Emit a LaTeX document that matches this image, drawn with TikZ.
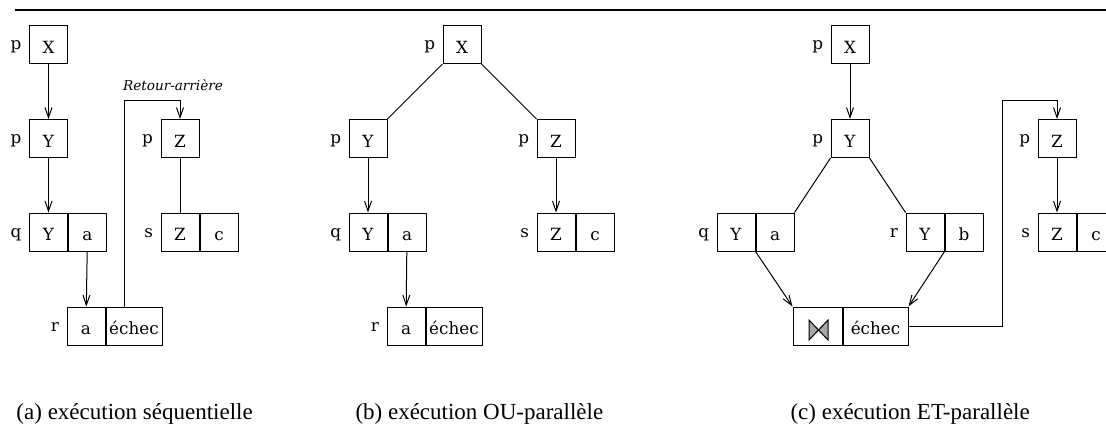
\documentclass[tikz,border=0pt]{standalone}
\usepackage{fontspec}
\setmainfont{Liberation Serif}
\newfontfamily\cellfont{DejaVu Serif}
\usetikzlibrary{positioning,arrows.meta}

\begin{document}
\begin{tikzpicture}[x=0.5pt,y=-0.5pt,line width=0.5pt,
  cell/.style={draw,minimum width=19pt,minimum height=19pt,inner sep=0pt,
    font=\cellfont\fontsize{8.4}{9}\selectfont,text height=8.8pt,text depth=0pt},
  wide/.style={cell,minimum width=28pt},
  lbl/.style={inner sep=0pt,font=\cellfont\fontsize{8.4}{9}\selectfont,
    text height=8.8pt,text depth=0pt,yshift=1.7pt},
  label distance=3.5pt,
  arr/.style={-{Straight Barb[length=5pt,width=3.5pt]}},
  captxt/.style={anchor=base west,inner sep=0pt,font=\fontsize{11.5}{13}\selectfont},
  bow/.style={fill=black!35,draw=black}]
\useasboundingbox (0,0) rectangle (1106,425);
\draw[line width=1pt] (15,10) -- (1106,10);
% (a)
\node[cell,label={[lbl]left:p}] (aX) at (48.5,44.5) {X};
\node[cell,label={[lbl]left:p}] (aY) at (48.5,138.5) {Y};
\node[cell,label={[lbl]left:q}] (aqY) at (48.5,232) {Y};
\node[cell,right=0pt of aqY] (aqa) {a};
\node[cell,label={[lbl]left:r}] (ara) at (86,326) {a};
\node[wide,right=0pt of ara] (arE) {échec};
\node[cell,label={[lbl]left:p}] (aZ) at (180,138.5) {Z};
\node[cell,label={[lbl]left:s}] (asZ) at (180,232) {Z};
\node[cell,right=0pt of asZ] (asc) {c};
\node[font=\cellfont\itshape\fontsize{6.8}{8}\selectfont] (aRet) at (173,85) {Retour-arrière};
\draw[arr] (aX) -- (aY);
\draw[arr] (aY) -- (aqY);
\draw[arr] (aqa) -- (ara);
\draw (aZ) -- (asZ);
\draw[arr] ([xshift=-5pt]arE.north) |- ([yshift=9.5pt]aZ.north) -- (aZ.north);
% (b)
\node[cell,label={[lbl]left:p}] (bX) at (462,44.5) {X};
\node[cell,label={[lbl]left:p}] (bY) at (368,138.5) {Y};
\node[cell,label={[lbl]left:p}] (bZ) at (556,138.5) {Z};
\node[cell,label={[lbl]left:q}] (bqY) at (368,232) {Y};
\node[cell,right=0pt of bqY] (bqa) {a};
\node[cell,label={[lbl]left:s}] (bsZ) at (556,232) {Z};
\node[cell,right=0pt of bsZ] (bsc) {c};
\node[cell,label={[lbl]left:r}] (bra) at (406,326) {a};
\node[wide,right=0pt of bra] (brE) {échec};
\draw (bX.south west) -- (bY.north east);
\draw (bX.south east) -- (bZ.north west);
\draw[arr] (bY) -- (bqY);
\draw[arr] (bZ) -- (bsZ);
\draw[arr] (bqa) -- (bra);
% (c)
\node[cell,label={[lbl]left:p}] (cX) at (850,44.5) {X};
\node[cell,label={[lbl]left:p}] (cY) at (850,138.5) {Y};
\node[cell,label={[lbl]left:q}] (cqY) at (736,232) {Y};
\node[cell,right=0pt of cqY] (cqa) {a};
\node[cell,label={[lbl]left:r}] (crY) at (925,232) {Y};
\node[cell,right=0pt of crY] (crb) {b};
\node[cell,minimum width=24.5pt] (cbt) at (817.5,326) {};
\node[cell,minimum width=32.5pt,right=0pt of cbt] (cE) {échec};
\node[cell,label={[lbl]left:p}] (cZ) at (1057,138.5) {Z};
\node[cell,label={[lbl]left:s}] (csZ) at (1057,232) {Z};
\node[cell,right=0pt of csZ] (csc) {c};
\filldraw[bow] (cbt.center) ++(-8.5,-6) -- ++(0,20) -- ++(9.5,-10) -- cycle;
\filldraw[bow] (cbt.center) ++(10.5,-6) -- ++(0,20) -- ++(-9.5,-10) -- cycle;
\draw[arr] (cX) -- (cY);
\draw (cY.south west) -- (cqa.north east);
\draw (cY.south east) -- (crY.north west);
\draw[arr] (cqY.south east) -- (cbt.north west);
\draw[arr] (crb.south west) -- (cE.north east);
\draw[arr] (cE.east) -- ++(94,0) |- ([yshift=9.5pt]cZ.north) -- (cZ.north);
\draw[arr] (cZ) -- (csZ);
% captions
\node[captxt] (capa) at (16,419) {(a) exécution séquentielle};
\node[captxt] (capb) at (355,419) {(b) exécution OU-parallèle};
\node[captxt] (capc) at (790,419) {(c) exécution ET-parallèle};
\end{tikzpicture}
\end{document}
